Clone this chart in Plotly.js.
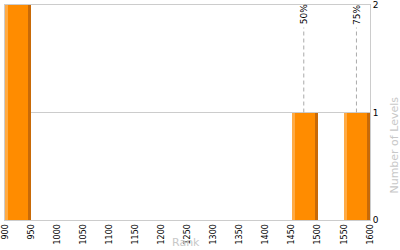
<!DOCTYPE html>
<html><head><meta charset="utf-8">
<script src="https://cdn.plot.ly/plotly-3.0.1.min.js"></script>
<style>html,body{margin:0;padding:0;background:#fff}#c{width:400px;height:250px}</style>
</head><body><div id="c"></div>
<script>
var binStart = [900, 1450, 1550];
var counts = [2, 1, 1];
var binWidth = 50;
var pctLabels = ['50%', '75%'];
var pctValues = [1473, 1574];
var pctCounts = [1, 1];
var xTicks = [900,950,1000,1050,1100,1150,1200,1250,1300,1350,1400,1450,1500,1550,1600];

var traces = [
  {type:'bar', x:binStart, y:counts, width:binWidth, offset:0, marker:{color:'#FF8C00', line:{width:0}}, hoverinfo:'skip'},
  {type:'bar', x:binStart, y:counts, width:binWidth*0.11, offset:0, marker:{color:'#FFAB45', line:{width:0}}, hoverinfo:'skip'},
  {type:'bar', x:binStart, y:counts, width:binWidth*0.11, offset:binWidth*0.89, marker:{color:'#C86A08', line:{width:0}}, hoverinfo:'skip'}
];

var shapes = pctValues.map(function(v,i){
  return {type:'line', xref:'x', yref:'y', x0:v, x1:v, y0:pctCounts[i], y1:1.79, line:{color:'#aaaaaa', width:1, dash:'4px,3px'}};
});
var annotations = pctValues.map(function(v,i){
  return {x:v, y:1.8, xref:'x', yref:'y', text:pctLabels[i], textangle:-90, showarrow:false, yanchor:'bottom', xanchor:'center', font:{family:'DejaVu Sans', size:9, color:'#000'}};
});
annotations.push({xref:'paper', yref:'paper', x:0.497, y:-0.1395, yanchor:'bottom', xanchor:'center', borderpad:0, showarrow:false, text:'Rank', font:{size:11, color:'#c8c8c8'}});
annotations.push({xref:'paper', yref:'paper', x:1.068, y:0.35, yanchor:'middle', xanchor:'center', textangle:-90, showarrow:false, text:'Number of Levels', font:{size:11, color:'#c8c8c8'}});

var layout = {
  width:400, height:250,
  margin:{l:5, r:30, t:5, b:30},
  paper_bgcolor:'#fff', plot_bgcolor:'#fff',
  showlegend:false, barmode:'overlay', bargap:0,
  font:{family:'DejaVu Sans', size:9, color:'#000'},
  xaxis:{range:[900,1600], tickvals:xTicks, ticktext:xTicks.map(String), automargin:false,
    tickangle:-90, showgrid:false, zeroline:false, showline:true, mirror:true, linecolor:'#cccccc', linewidth:1,
    ticks:'', ticklen:0, ticklabeloverflow:'allow', tickfont:{size:8, color:'#000'}},
  yaxis:{range:[0,2], side:'right', tickvals:[0,1,2], showgrid:true, gridcolor:'#cccccc', zeroline:false, automargin:false,
    showline:true, mirror:true, linecolor:'#cccccc', ticks:'', tickfont:{size:9, color:'#000'}},
  shapes:shapes, annotations:annotations
};
Plotly.newPlot('c', traces, layout, {staticPlot:true, displayModeBar:false});
</script></body></html>
